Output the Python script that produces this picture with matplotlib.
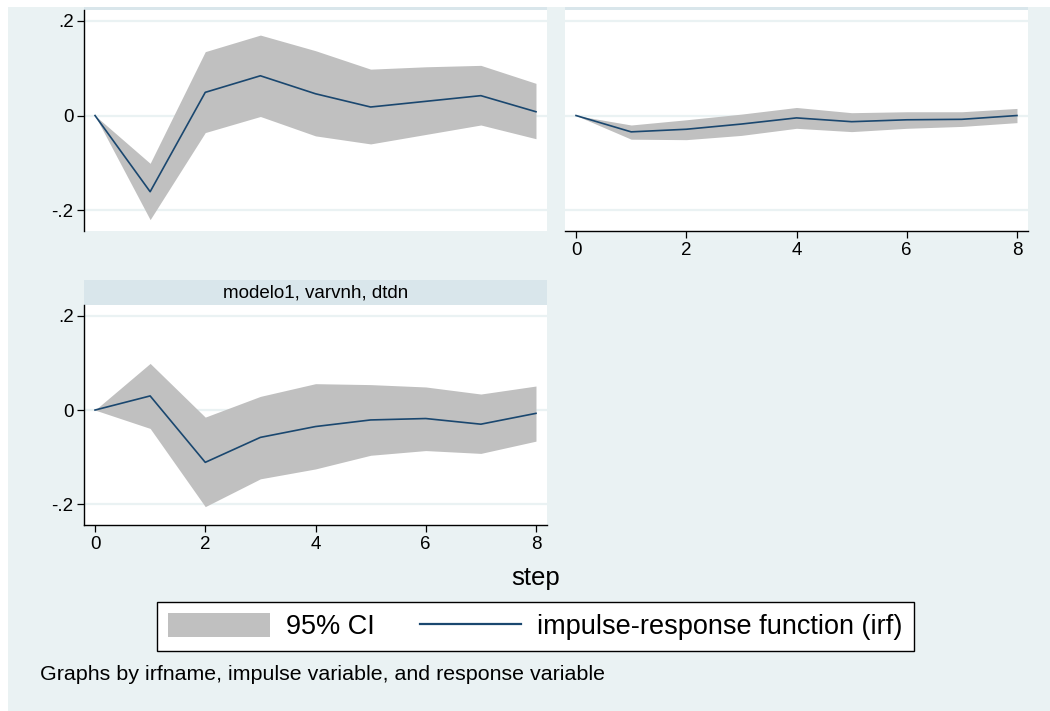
import matplotlib.pyplot as plt
from matplotlib.patches import Patch, Rectangle
from matplotlib.lines import Line2D

plt.rcParams['font.family'] = ['Liberation Sans', 'DejaVu Sans']

steps = [0, 1, 2, 3, 4, 5, 6, 7, 8]

# panel 1 (top left)
irf_1 = [0, -0.161, 0.049, 0.084, 0.046, 0.018, 0.030, 0.042, 0.008]
upper_1 = [0, -0.101, 0.135, 0.170, 0.137, 0.098, 0.103, 0.106, 0.068]
lower_1 = [0, -0.220, -0.036, -0.002, -0.043, -0.060, -0.040, -0.020, -0.049]

# panel 2 (top right)
irf_2 = [0, -0.0345, -0.029, -0.018, -0.005, -0.013, -0.009, -0.008, 0.0]
upper_2 = [0, -0.020, -0.009, 0.003, 0.017, 0.006, 0.008, 0.008, 0.015]
lower_2 = [0, -0.050, -0.051, -0.042, -0.027, -0.034, -0.027, -0.023, -0.015]

# panel 3 (bottom left): modelo1, varvnh, dtdn
irf_3 = [0, 0.030, -0.111, -0.058, -0.035, -0.021, -0.018, -0.030, -0.007]
upper_3 = [0, 0.099, -0.015, 0.029, 0.056, 0.054, 0.049, 0.034, 0.051]
lower_3 = [0, -0.039, -0.205, -0.146, -0.125, -0.096, -0.086, -0.092, -0.066]

panel_title_3 = 'modelo1, varvnh, dtdn'
yticks = [-0.2, 0, 0.2]
ytick_labels = ['-.2', '0', '.2']
xticks = [0, 2, 4, 6, 8]

BG = '#eaf2f3'
STRIP = '#d9e6eb'
CI_COL = '#c0c0c0'
NAVY = '#1a476f'

W, H = 1050, 711
fig = plt.figure(figsize=(W / 100, H / 100), dpi=100, facecolor='white')


def px(l, t, r, b):
    return [l / W, 1 - b / H, (r - l) / W, (b - t) / H]


fig.patches.append(Rectangle((8 / W, 0), 1 - 8 / W, 1 - 7 / H, transform=fig.transFigure,
                             facecolor=BG, edgecolor='none', zorder=-10))


def panel(rect, irf, up, lo, show_y, show_x):
    ax = fig.add_axes(px(*rect))
    ax.set_facecolor('white')
    ax.fill_between(steps, lo, up, color=CI_COL, lw=0, zorder=2)
    ax.plot(steps, irf, color=NAVY, lw=1.2, zorder=3)
    ax.set_xlim(-0.2, 8.2)
    ax.set_ylim(-0.244, 0.223)
    ax.set_yticks(yticks)
    ax.set_xticks(xticks)
    ax.grid(axis='y', color=BG, lw=1.6, zorder=1)
    ax.set_axisbelow(True)
    for s in ['top', 'right']:
        ax.spines[s].set_visible(False)
    ax.spines['left'].set_visible(show_y)
    ax.spines['bottom'].set_visible(show_x)
    ax.spines['left'].set_linewidth(1.0)
    ax.spines['bottom'].set_linewidth(1.0)
    if show_y:
        ax.set_yticklabels(ytick_labels)
        ax.tick_params(axis='y', length=5, width=0.9, pad=2.5, labelsize=13.5)
    else:
        ax.tick_params(axis='y', length=0, labelleft=False)
    if show_x:
        ax.tick_params(axis='x', length=5, width=0.9, pad=3, labelsize=13.5)
    else:
        ax.tick_params(axis='x', length=0, labelbottom=False)
    return ax


def strip(rect, text=None):
    sa = fig.add_axes(px(*rect))
    sa.set_facecolor(STRIP)
    sa.set_xticks([])
    sa.set_yticks([])
    for s in sa.spines.values():
        s.set_visible(False)
    if text:
        sa.text(0.5, 0.5, text, ha='center', va='center', fontsize=13.5,
                transform=sa.transAxes)


strip((84, 7, 547, 10))
strip((565, 7, 1028, 10))
strip((84, 280, 547, 305), panel_title_3)

panel((84, 10, 547, 231), irf_1, upper_1, lower_1, True, False)
panel((565, 10, 1028, 231), irf_2, upper_2, lower_2, False, True)
panel((84, 305, 547, 525), irf_3, upper_3, lower_3, True, True)

fig.text(536 / W, 1 - 578 / H, 'step', ha='center', va='center', fontsize=18.5)

handles = [Patch(facecolor=CI_COL, edgecolor='none'),
           Line2D([0], [0], color=NAVY, lw=1.6)]
leg = fig.legend(handles, ['95% CI', 'impulse-response function (irf)'],
                 loc='center', bbox_to_anchor=(535.5 / W, 1 - 626.5 / H), ncol=2,
                 fontsize=19.5, frameon=True, fancybox=False, framealpha=1,
                 facecolor='white', edgecolor='black', handlelength=3.75,
                 handleheight=1.0, handletextpad=0.6, columnspacing=1.65,
                 borderpad=0.4, borderaxespad=0)
leg.get_frame().set_linewidth(1.0)

fig.text(40 / W, 1 - 674 / H, 'Graphs by irfname, impulse variable, and response variable',
         ha='left', va='center', fontsize=15.4)

fig.savefig('out.png', dpi=100, facecolor='white')
